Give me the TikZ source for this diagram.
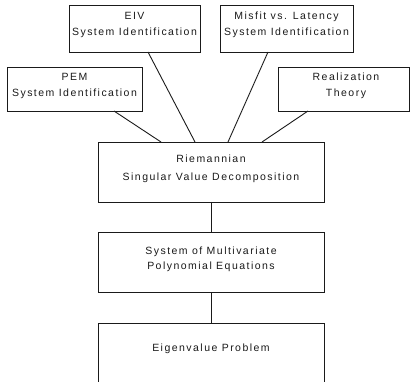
\documentclass[tikz,border=0pt]{standalone}
\usepackage{fontspec}
\setmainfont{Liberation Sans}[LetterSpace=14]
\usetikzlibrary{calc}
\definecolor{ink}{HTML}{1A1A1A}
\tikzset{
  box/.style={draw=ink, line width=0.9pt, anchor=north west, inner sep=0pt, outer sep=0pt},
  lbl/.style={anchor=base, inner sep=0pt, text=ink, font=\fontsize{10.5}{12}\selectfont},
  link/.style={draw=ink, line width=0.9pt},
}
\begin{document}
\begin{tikzpicture}[x=1pt,y=-1pt]
\useasboundingbox (0,0) rectangle (412,382);
\clip (0,0) rectangle (412,382);
% boxes
\node[box, minimum width=131pt, minimum height=47pt] (eiv) at (69,5) {};
\node[box, minimum width=133pt, minimum height=47pt] (mis) at (220,5) {};
\node[box, minimum width=135pt, minimum height=44pt] (pem) at (7,67) {};
\node[box, minimum width=131pt, minimum height=44pt] (rea) at (278,67) {};
\node[box, minimum width=226pt, minimum height=60pt] (rsvd) at (98,142) {};
\node[box, minimum width=226pt, minimum height=60pt] (smpe) at (98,232) {};
\node[box, minimum width=226pt, minimum height=80pt] (eig) at (98,323) {};
% labels
\node[lbl] (eiv1) at (134.5,19.5) {EIV};
\node[lbl] (eiv2) at (134.5,35.5) {System Identification};
\node[lbl] (mis1) at (286.5,19.5) {Misfit vs. Latency};
\node[lbl] (mis2) at (286.5,35.5) {System Identification};
\node[lbl] (pem1) at (74.5,80.5) {PEM};
\node[lbl] (pem2) at (74.5,96.5) {System Identification};
\node[lbl] (rea1) at (346,80.5) {Realization};
\node[lbl] (rea2) at (346,96.5) {Theory};
\node[lbl] (rsvd1) at (211,162.5) {Riemannian};
\node[lbl] (rsvd2) at (211,181) {Singular Value Decomposition};
\node[lbl] (smpe1) at (211,254) {System of Multivariate};
\node[lbl] (smpe2) at (211,269.5) {Polynomial Equations};
\node[lbl] (eig1) at (211,351) {Eigenvalue Problem};
% connectors
\draw[link] ($(pem.south west)+(107,0)$) -- ($(rsvd.north west)+(63,0)$);
\draw[link] ($(eiv.south west)+(79,0)$) -- ($(rsvd.north west)+(97,0)$);
\draw[link] ($(mis.south west)+(48,0)$) -- ($(rsvd.north west)+(130,0)$);
\draw[link] ($(rea.south west)+(30,0)$) -- ($(rsvd.north west)+(164,0)$);
\draw[link] (rsvd.south) -- (smpe.north);
\draw[link] (smpe.south) -- (eig.north);
\end{tikzpicture}
\end{document}
